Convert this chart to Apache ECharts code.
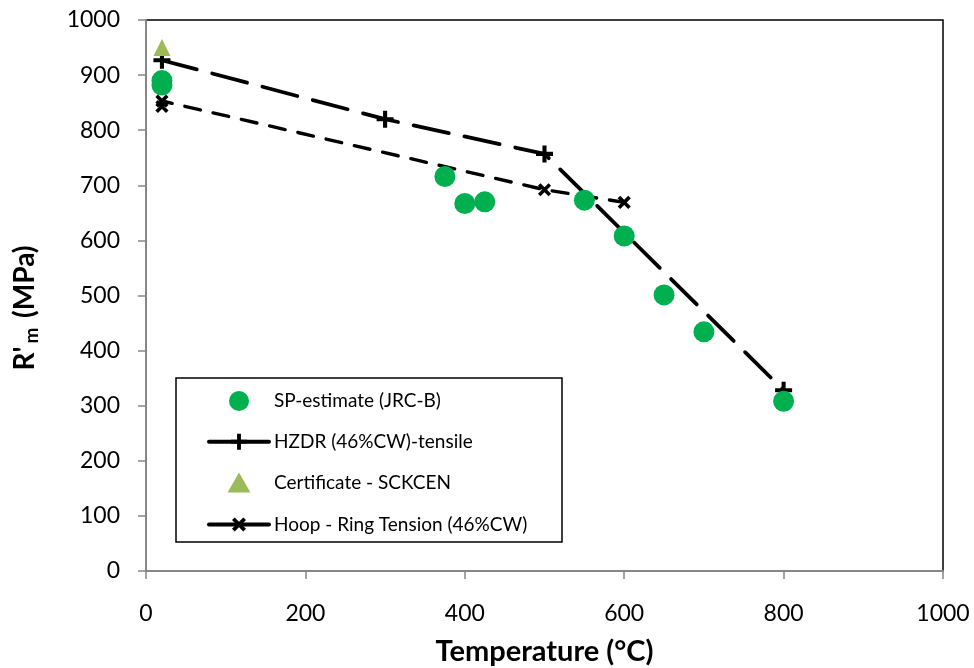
<!DOCTYPE html>
<html>
<head>
<meta charset="utf-8">
<script src="https://cdn.jsdelivr.net/npm/echarts@6/dist/echarts.min.js"></script>
<style>
  html, body { margin: 0; padding: 0; background: #fff; }
  #chart { width: 974px; height: 668px; }
</style>
</head>
<body>
<div id="chart"></div>
<script>
// ---- data ----
const spTemp = [20, 20, 375, 400, 425, 550, 600, 650, 700, 800];
const spRm   = [890, 882, 716, 667, 670, 673, 608, 501, 434, 308];

const hzdrTemp = [20, 300, 500, 800];
const hzdrRm   = [927, 820, 757, 328];

const certTemp = [20];
const certRm   = [950];

const hoopTemp = [20, 20, 500, 600];
const hoopRm   = [843, 853, 692, 669];

const xTicks = [0, 200, 400, 600, 800, 1000];
const yTicks = [0, 100, 200, 300, 400, 500, 600, 700, 800, 900, 1000];

const seriesNames = [
  'SP-estimate (JRC-B)',
  'HZDR (46%CW)-tensile',
  'Certificate - SCKCEN',
  'Hoop - Ring Tension (46%CW)'
];

function pairs(xs, ys) { return xs.map((x, i) => [x, ys[i]]); }

const plusPath = 'path://M-1.2,-5H1.2V-1.2H5V1.2H1.2V5H-1.2V1.2H-5V-1.2H-1.2Z';
const triPath = 'path://M0,-7L8,7H-8Z';
const FONT = 'Lato';

const chart = echarts.init(document.getElementById('chart'), null, { renderer: 'canvas' });

chart.setOption({
  animation: false,
  backgroundColor: '#fff',
  textStyle: { fontFamily: FONT },
  grid: {
    left: 146, right: 31, top: 20, bottom: 97,
    containLabel: false, outerBoundsMode: 'none',
    show: true, borderColor: '#000', borderWidth: 1.5, backgroundColor: 'transparent'
  },
  xAxis: {
    type: 'value', min: xTicks[0], max: xTicks[xTicks.length - 1], interval: 200,
    name: 'Temperature (°C)', nameLocation: 'middle', nameGap: 66,
    nameTextStyle: { fontFamily: FONT, fontWeight: 'bold', fontSize: 29, color: '#000' },
    axisLine: { show: true, lineStyle: { color: '#868686', width: 2 } },
    axisTick: { show: true, length: 8, lineStyle: { color: '#868686', width: 1.5 } },
    axisLabel: { fontFamily: FONT, fontSize: 23, color: '#000', margin: 31, formatter: v => String(v) },
    splitLine: { show: false }
  },
  yAxis: {
    type: 'value', min: yTicks[0], max: yTicks[yTicks.length - 1], interval: 100,
    axisLine: { show: true, lineStyle: { color: '#868686', width: 2 } },
    axisTick: { show: true, length: 8, lineStyle: { color: '#868686', width: 1.5 } },
    axisLabel: { fontFamily: FONT, fontSize: 23, color: '#000', margin: 26, formatter: v => String(v) },
    splitLine: { show: false }
  },
  legend: {
    orient: 'vertical', left: 207, top: 391,
    itemWidth: 60, itemHeight: 20, itemGap: 20.7,
    padding: 0,
    lineStyle: { width: 4, type: 'solid' },
    textStyle: { fontFamily: FONT, fontSize: 19, color: '#000', lineHeight: 20 },
    data: [
      { name: seriesNames[0] },
      { name: seriesNames[1] },
      { name: seriesNames[2], icon: triPath },
      { name: seriesNames[3] }
    ]
  },
  graphic: [
    {
      type: 'rect', shape: { x: 176, y: 378, width: 386, height: 164 },
      style: { fill: 'none', stroke: '#000', lineWidth: 1.5 }, z: 100, silent: true
    },
    {
      type: 'text', x: 25, y: 308, rotation: Math.PI / 2,
      style: {
        text: "{a|R'}{b|m}{a| (MPa)}",
        align: 'center', verticalAlign: 'middle',
        rich: {
          a: { fontFamily: FONT, fontWeight: 'bold', fontSize: 28, fill: '#000' },
          b: { fontFamily: FONT, fontWeight: 'bold', fontSize: 19, fill: '#000', padding: [13, 3, 0, 3] }
        }
      }
    }
  ],
  series: [
    {
      name: seriesNames[3], type: 'line', data: pairs(hoopTemp, hoopRm),
      symbol: plusPath, symbolRotate: 45, symbolSize: 15,
      itemStyle: { color: '#000', opacity: 1 },
      lineStyle: { color: '#000', width: 3.4, type: [16, 13], cap: 'round' },
      z: 3
    },
    {
      name: seriesNames[1], type: 'line', data: pairs(hzdrTemp, hzdrRm),
      symbol: plusPath, symbolSize: 17,
      itemStyle: { color: '#000', opacity: 1 },
      lineStyle: { color: '#000', width: 3.8, type: [36, 16], cap: 'round' },
      z: 4
    },
    {
      name: seriesNames[0], type: 'scatter', data: pairs(spTemp, spRm),
      symbol: 'circle', symbolSize: 21,
      itemStyle: { color: '#00B050', opacity: 1 },
      z: 5
    },
    {
      name: seriesNames[2], type: 'scatter', data: pairs(certTemp, certRm),
      symbol: 'triangle', symbolSize: [17, 17],
      itemStyle: { color: '#9BBB59', opacity: 1 },
      z: 6
    }
  ]
});
</script>
</body>
</html>
